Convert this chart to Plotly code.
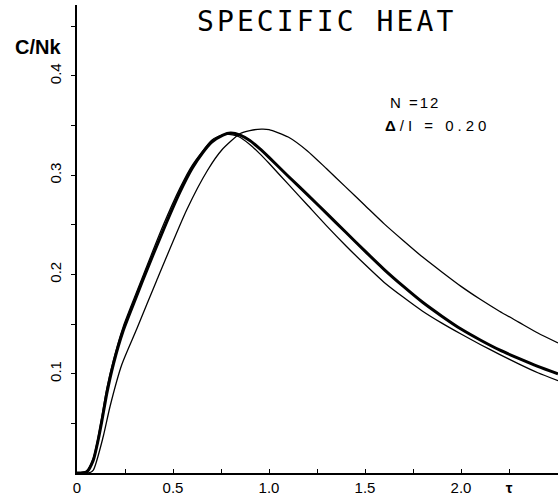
import plotly.graph_objects as go

# --- data (tau, C/Nk) ---
tau_thick = [0.0, 0.05, 0.085, 0.11, 0.13, 0.155, 0.19, 0.24, 0.31, 0.34, 0.45, 0.536, 0.60, 0.656, 0.70,
             0.76, 0.80, 0.85, 0.90, 0.95, 1.0, 1.1, 1.2, 1.3, 1.4, 1.5, 1.6, 1.7, 1.8, 1.9, 2.0,
             2.1, 2.2, 2.3, 2.4, 2.505]
c_thick = [0.0, 0.001, 0.013, 0.033, 0.053, 0.080, 0.110, 0.143, 0.178, 0.193, 0.245, 0.283, 0.307, 0.323, 0.333,
           0.3405, 0.3425, 0.3405, 0.335, 0.327, 0.318, 0.299, 0.2805, 0.2615, 0.2425, 0.2235, 0.205, 0.188,
           0.172, 0.158, 0.145, 0.134, 0.124, 0.1155, 0.1075, 0.100]

tau_left = [0.0, 0.05, 0.085, 0.11, 0.13, 0.155, 0.19, 0.24, 0.31, 0.45, 0.536, 0.60, 0.70, 0.74, 0.78,
            0.84, 0.90, 0.95, 1.0, 1.1, 1.2, 1.3, 1.4, 1.5, 1.6, 1.7, 1.8, 1.9, 2.0, 2.1, 2.2,
            2.3, 2.4, 2.505]
c_left = [0.0, 0.002, 0.015, 0.036, 0.057, 0.085, 0.114, 0.147, 0.182, 0.250, 0.287, 0.310, 0.335, 0.3395, 0.3415,
          0.339, 0.331, 0.322, 0.312, 0.291, 0.270, 0.249, 0.229, 0.210, 0.192, 0.177, 0.163, 0.151,
          0.140, 0.1295, 0.1195, 0.110, 0.101, 0.093]

tau_right = [0.0, 0.06, 0.085, 0.137, 0.172, 0.233, 0.311, 0.415, 0.571, 0.68, 0.754, 0.85, 0.90, 0.96,
             1.0, 1.1, 1.2, 1.3, 1.4, 1.5, 1.6, 1.7, 1.8, 1.9, 2.0, 2.1, 2.2, 2.3, 2.4, 2.505]
c_right = [0.0, 0.0, 0.003, 0.037, 0.067, 0.109, 0.145, 0.194, 0.265, 0.305, 0.3254, 0.342, 0.345, 0.3465,
           0.346, 0.3385, 0.3245, 0.3065, 0.288, 0.2695, 0.251, 0.234, 0.2175, 0.2025, 0.188, 0.175, 0.163,
           0.152, 0.141, 0.131]

x_tickvals = [0, 0.25, 0.5, 0.75, 1.0, 1.25, 1.5, 1.75, 2.0, 2.25]
x_ticktext = ["0", "", "0.5", "", "1.0", "", "1.5", "", "2.0", "<b>τ</b>"]
y_tickvals = [0.05, 0.1, 0.15, 0.2, 0.25, 0.3, 0.35, 0.4, 0.45]
y_ticktext = ["", "0.1", "", "0.2", "", "0.3", "", "0.4", ""]

fig = go.Figure()
fig.add_trace(go.Scatter(x=tau_right, y=c_right, mode="lines",
                         line=dict(color="black", width=1.3, shape="spline", smoothing=0.6)))
fig.add_trace(go.Scatter(x=tau_left, y=c_left, mode="lines",
                         line=dict(color="black", width=1.3, shape="spline", smoothing=0.6)))
fig.add_trace(go.Scatter(x=tau_thick, y=c_thick, mode="lines",
                         line=dict(color="black", width=3, shape="spline", smoothing=0.6)))

fig.update_layout(
    width=558, height=498,
    margin=dict(l=77, r=0, t=5, b=25),
    plot_bgcolor="white", paper_bgcolor="white",
    showlegend=False,
    font=dict(family="Liberation Sans, Arial, sans-serif", color="black", size=14),
    xaxis=dict(range=[0, 2.505], showgrid=False, zeroline=False, showline=True,
               linecolor="black", linewidth=1.5, ticks="inside", ticklen=4, tickwidth=1.2,
               tickcolor="black", tickmode="array", tickvals=x_tickvals, ticktext=x_ticktext,
               tickfont=dict(size=15)),
    yaxis=dict(range=[0, 0.4715], showgrid=False, zeroline=False, showline=True,
               linecolor="black", linewidth=1.5, ticks="outside", ticklen=4, tickwidth=1.2,
               tickcolor="black", tickmode="array", tickvals=y_tickvals, ticktext=y_ticktext,
               tickangle=-90, tickfont=dict(size=15), ticklabelstandoff=4),
    annotations=[
        dict(text="<b>C/Nk</b>", xref="paper", yref="paper", x=-0.081, y=0.910,
             xanchor="center", yanchor="middle", showarrow=False,
             font=dict(size=20, family="Liberation Sans, Arial, sans-serif")),
        dict(text='<span style="letter-spacing:3.1px">SPECIFIC HEAT</span>', xref="paper", yref="paper",
             x=0.2453, y=0.9637, xanchor="left", yanchor="middle", showarrow=False,
             font=dict(size=28, family="DejaVu Sans Mono, monospace")),
        dict(text='<span style="letter-spacing:2px">N =12</span>', xref="paper", yref="paper",
             x=0.6466, y=0.7927, xanchor="left", yanchor="middle", showarrow=False,
             font=dict(size=15, family="Liberation Sans, Arial, sans-serif")),
        dict(text='<span style="letter-spacing:4px"><b>Δ</b>/I = 0.20</span>', xref="paper", yref="paper",
             x=0.6362, y=0.7415, xanchor="left", yanchor="middle", showarrow=False,
             font=dict(size=15, family="Liberation Sans, Arial, sans-serif")),
    ],
)

fig.write_html("out.html", config={"displayModeBar": False})

# remove the default page margin so the figure sits at the window's top-left corner
with open("out.html", "r", encoding="utf-8") as f:
    html = f.read()
html = html.replace("<body>", '<body style="margin:0;overflow:hidden">', 1)
with open("out.html", "w", encoding="utf-8") as f:
    f.write(html)
